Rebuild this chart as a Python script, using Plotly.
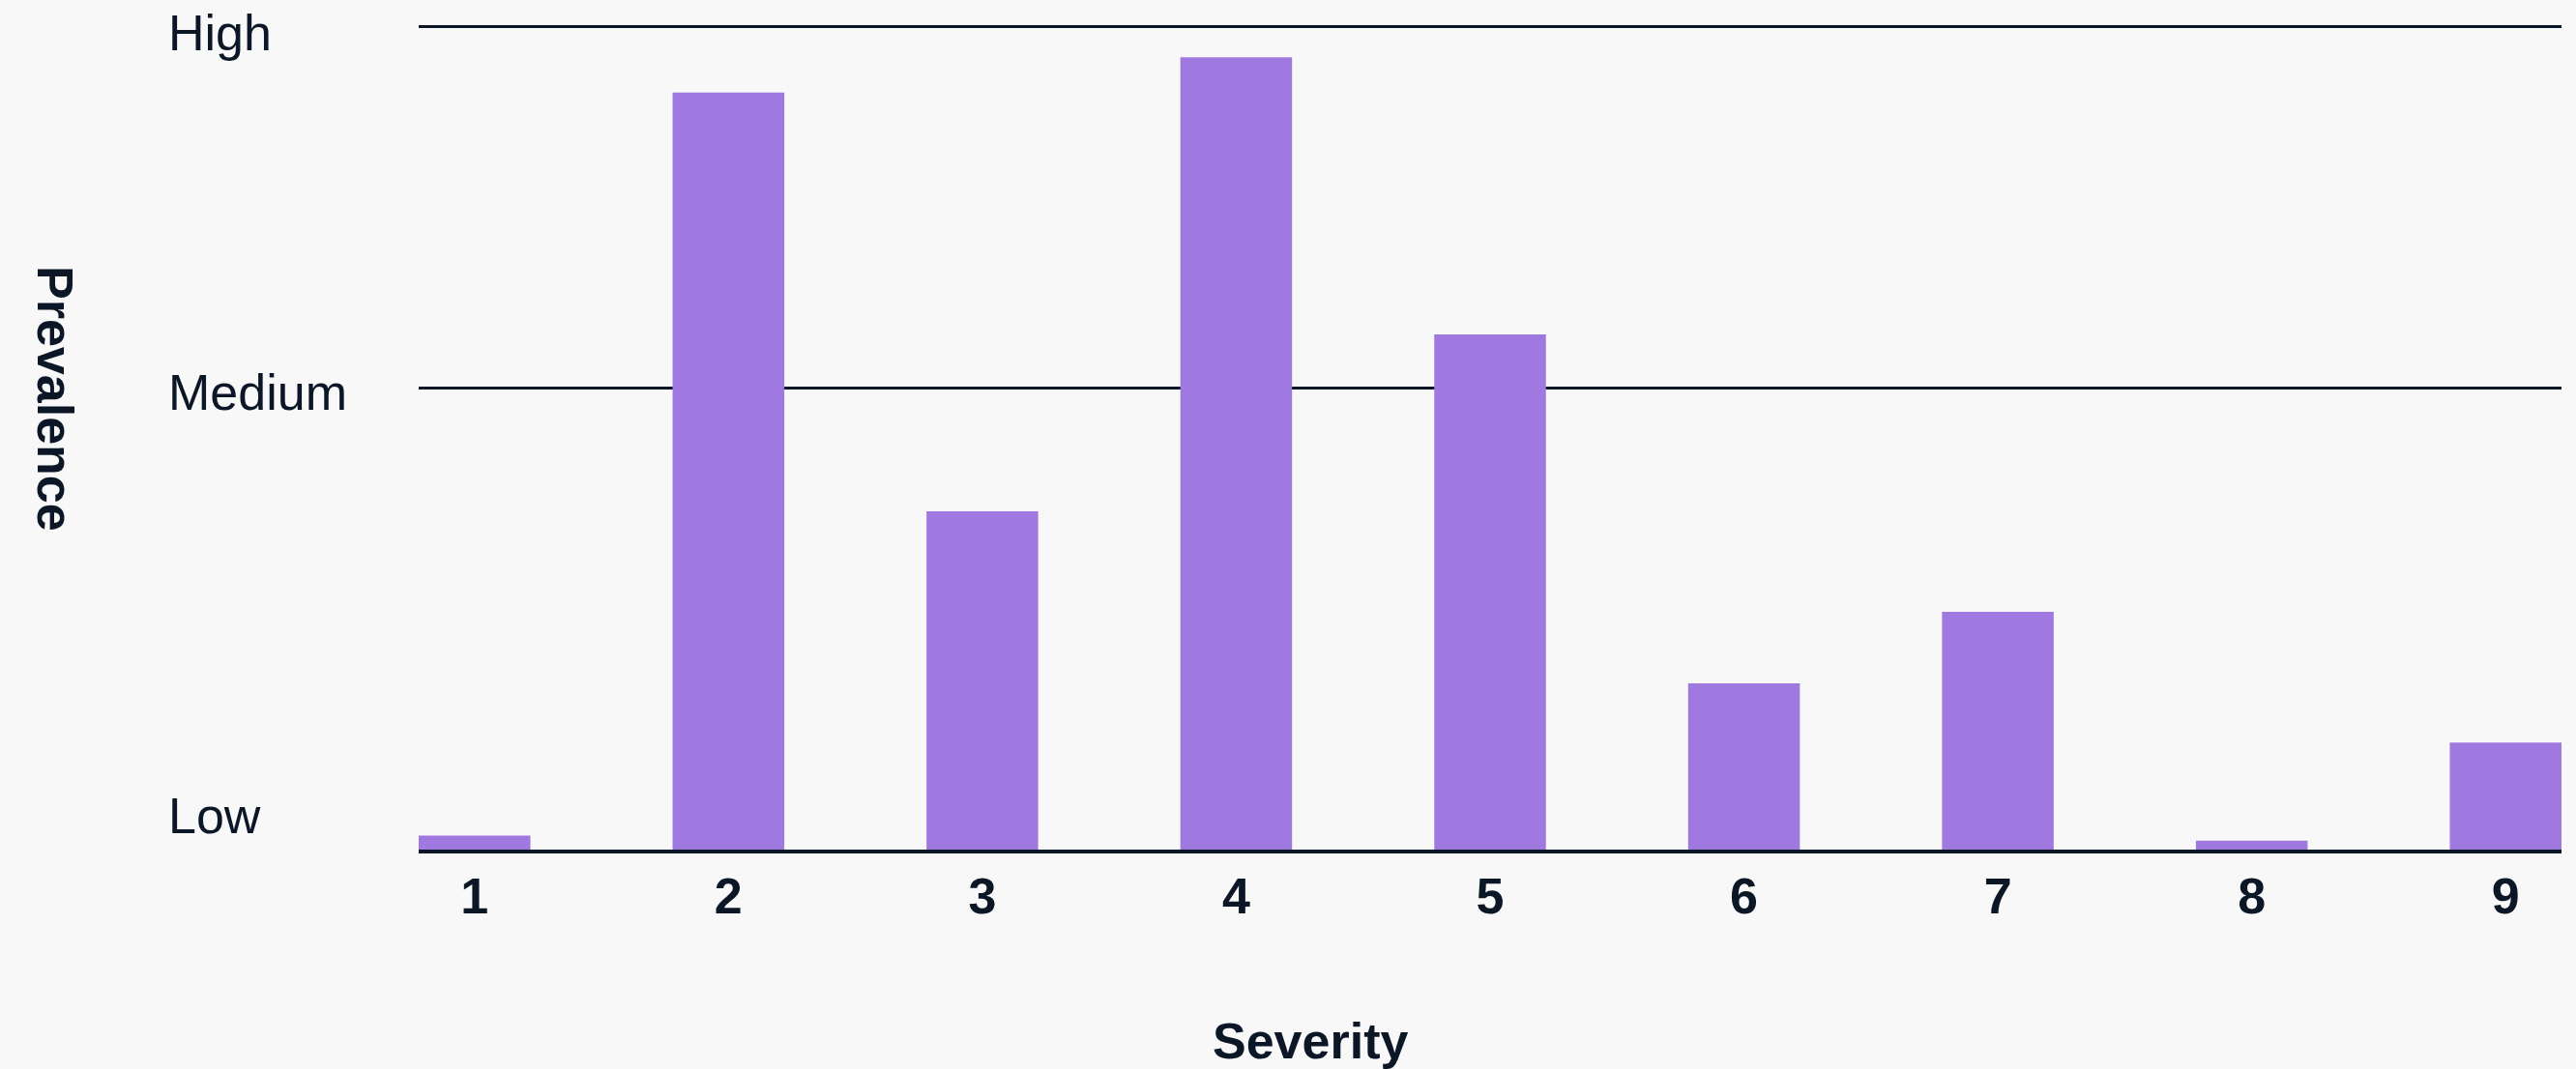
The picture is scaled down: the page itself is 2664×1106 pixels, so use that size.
import plotly.graph_objects as go

severity = [1, 2, 3, 4, 5, 6, 7, 8, 9]
prevalence = [1.7, 92.0, 41.1, 96.3, 62.6, 20.2, 28.9, 1.1, 13.0]
level_values = [0, 56.1, 100]
level_labels = ["Low", "Medium", "High"]
level_shifts = [35, -5, -6]

W, H = 2664, 1106
L, R, T, B = 433, 15, 26, 227
plot_w = W - L - R
plot_h = H - T - B

ink = "#0b1626"
bar_color = "#a079e0"
font = "Liberation Sans, Arial, sans-serif"

fig = go.Figure(go.Bar(
    x=severity, y=prevalence, width=0.44,
    marker=dict(color=bar_color, line=dict(width=0)),
    hoverinfo="skip",
))

for v, lab, sh in zip(level_values, level_labels, level_shifts):
    fig.add_annotation(
        x=(172 - L) / plot_w, xref="paper", xanchor="left",
        y=v, yref="y", yanchor="middle", yshift=sh,
        text=lab, showarrow=False,
        font=dict(family=font, size=52, color=ink),
    )

fig.add_annotation(
    x=(1355 - L) / plot_w, xref="paper", xanchor="center",
    y=-(1077 - (H - B)) / plot_h, yref="paper", yanchor="middle",
    text="<b>Severity</b>", showarrow=False,
    font=dict(family=font, size=52, color=ink),
)
fig.add_annotation(
    x=(57 - L) / plot_w, xref="paper", xanchor="center",
    y=((H - B) - 412) / plot_h, yref="paper", yanchor="middle",
    text="<b>Prevalence</b>", textangle=90, showarrow=False,
    font=dict(family=font, size=52, color=ink),
)

fig.update_layout(
    width=W, height=H,
    margin=dict(l=L, r=R, t=T, b=B, pad=0),
    paper_bgcolor="#f8f8f8", plot_bgcolor="#f8f8f8",
    showlegend=False,
    xaxis=dict(
        range=[0.78, 9.22], tickvals=severity,
        ticktext=[f"<b>{s}</b>" for s in severity],
        tickfont=dict(family=font, size=52, color=ink),
        showgrid=False, zeroline=False,
        showline=True, linecolor=ink, linewidth=3.5,
        ticks="", fixedrange=True,
    ),
    yaxis=dict(
        range=[0, 100.2], tickvals=level_values, showticklabels=False,
        showgrid=True, gridcolor=ink, gridwidth=3,
        zeroline=False, showline=False, ticks="", fixedrange=True,
    ),
)

fig.write_html(
    "out.html",
    config={"displayModeBar": False},
    post_script="document.body.style.margin='0';document.body.style.background='#f8f8f8';",
)
